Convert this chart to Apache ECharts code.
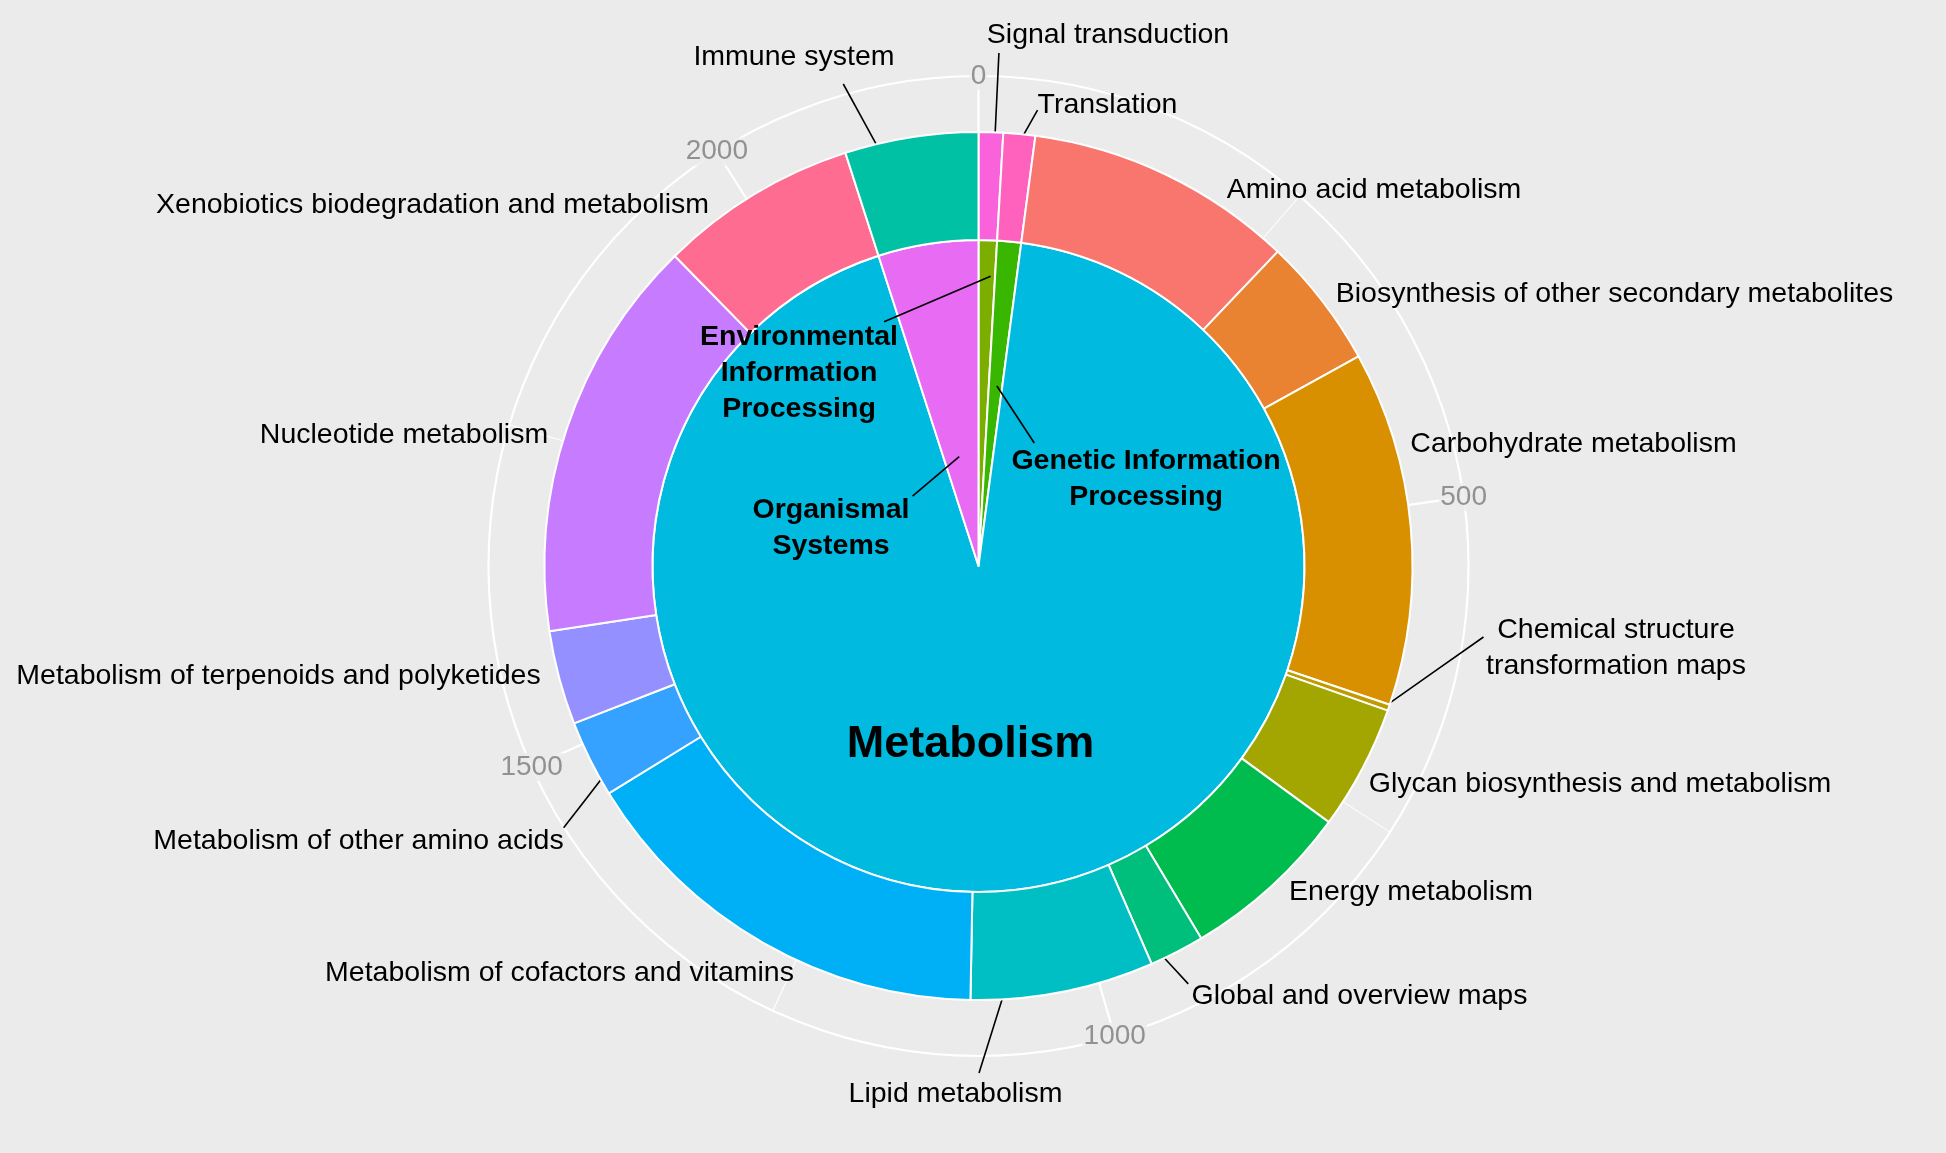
<!DOCTYPE html>
<html>
<head>
<meta charset="utf-8">
<script src="https://cdn.jsdelivr.net/npm/echarts@6/dist/echarts.min.js"></script>
<style>
html,body{margin:0;padding:0;background:#EBEBEB;}
#chart{width:1946px;height:1153px;}
</style>
</head>
<body>
<div id="chart"></div>
<script>
// ---------------- data ----------------
const outerNames = [
  'Signal transduction',
  'Translation',
  'Amino acid metabolism',
  'Biosynthesis of other secondary metabolites',
  'Carbohydrate metabolism',
  'Chemical structure\ntransformation maps',
  'Glycan biosynthesis and metabolism',
  'Energy metabolism',
  'Global and overview maps',
  'Lipid metabolism',
  'Metabolism of cofactors and vitamins',
  'Metabolism of other amino acids',
  'Metabolism of terpenoids and polyketides',
  'Nucleotide metabolism',
  'Xenobiotics biodegradation and metabolism',
  'Immune system'
];
const outerValues = [20, 26, 220, 107, 290, 5, 102, 140, 45, 150, 350, 63, 77, 331, 162, 109];

const innerNames = [
  'Environmental\nInformation\nProcessing',
  'Genetic Information\nProcessing',
  'Metabolism',
  'Organismal\nSystems'
];
const innerValues = [20, 26, 2042, 109];

const tickValues = [0, 500, 1000, 1500, 2000];

// ---------------- styles ----------------
const outerColors = ['#FA62DB','#FF62BC','#F8766D','#EA8331','#D89000','#C09B00','#A3A500','#00BB4E',
                     '#00BF7D','#00BFC4','#00B0F6','#35A2FF','#9590FF','#C77CFF','#FF6C91','#00C1A3'];
const innerColors = ['#7CAE00','#39B600','#00BAE0','#E76BF3'];

const FONT = 'Liberation Sans, Arial, Helvetica, sans-serif';
const CX = 978.5, CY = 566;
const R_IN = 326, R_OUT = 434, R_GRID = 490;

// label placement (layout only)
const outerLabelLayout = [
  {x:1108,   y:35,    line:{at:0.67, r:426, fx:0.05, fy:1.0}},
  {x:1107.5, y:105.5, line:{at:0.57, r:429, fx:0.0,  fy:0.63}},
  {x:1374,   y:190},
  {x:1614.5, y:294},
  {x:1573.5, y:444},
  {x:1616,   y:648.5, line:{at:0.5,  r:430, fx:-0.01, fy:0.34}},
  {x:1600,   y:784},
  {x:1411,   y:892},
  {x:1359.5, y:996.5, line:{at:0.8,  r:425, fx:-0.01, fy:0.15}},
  {x:955.5,  y:1094.5,line:{at:0.79, r:415, fx:0.61, fy:-0.1}},
  {x:559.5,  y:973},
  {x:358.5,  y:841.5, line:{at:0.25, r:425, fx:1.0,  fy:0.12}},
  {x:278.5,  y:676.5},
  {x:404,    y:435.5},
  {x:432.5,  y:205},
  {x:794,    y:57,    line:{at:0.27, r:418, fx:0.745, fy:1.25}}
];
const innerLabelLayout = [
  {x:799,   y:373.5, line:{at:0.73, r:290, fx:0.93, fy:0.02}},
  {x:1146,  y:479,   line:{at:0.6,  r:181, fx:0.085, fy:0}},
  {x:970.5, y:744.5},
  {x:831,   y:528.5, line:{at:0.44, r:111, fx:1.02, fy:0.05}}
];

const sum = a => a.reduce((s, v) => s + v, 0);
const TOTAL = sum(outerValues);

function makeLayout(values, layouts) {
  const total = sum(values);
  return function (params) {
    const i = params.dataIndex;
    const cfg = layouts[i];
    const out = {x: cfg.x, y: cfg.y, align: 'center', verticalAlign: 'middle'};
    if (cfg.line) {
      let start = 0;
      for (let k = 0; k < i; k++) start += values[k];
      const val = start + cfg.line.at * values[i];
      const th = val / total * Math.PI * 2;
      const ax = CX + cfg.line.r * Math.sin(th);
      const ay = CY - cfg.line.r * Math.cos(th);
      const w = params.labelRect.width, h = params.labelRect.height;
      const ex = cfg.x - w / 2 + cfg.line.fx * w;
      const ey = cfg.y - h / 2 + cfg.line.fy * h;
      out.labelLinePoints = [[ax, ay], [(ax + ex) / 2, (ay + ey) / 2], [ex, ey]];
    }
    return out;
  };
}

const outerData = outerNames.map((n, i) => ({
  name: n, value: outerValues[i],
  itemStyle: {color: outerColors[i]},
  labelLine: {show: !!outerLabelLayout[i].line}
}));
const innerData = innerNames.map((n, i) => ({
  name: n, value: innerValues[i],
  itemStyle: {color: innerColors[i]}
}));
// transparent copy of the inner pie that only carries labels + leader lines (drawn above all sectors)
const innerLabelData = innerNames.map((n, i) => {
  const d = {
    name: n, value: innerValues[i],
    labelLine: {show: !!innerLabelLayout[i].line}
  };
  if (n === 'Metabolism') d.label = {fontSize: 45};
  return d;
});

const labelLineStyle = {color: '#000000', width: 1.6};

const chart = echarts.init(document.getElementById('chart'), null, {renderer: 'canvas'});
chart.setOption({
  animation: false,
  backgroundColor: '#EBEBEB',
  polar: [
    {center: [CX, CY], radius: [0, R_GRID]},
    {center: [CX, CY], radius: [0, R_GRID]}
  ],
  angleAxis: [
    {polarIndex: 0, type: 'value', min: 0, max: TOTAL, interval: 500, startAngle: 90, clockwise: true, z: 1,
     axisLine: {show: true, lineStyle: {color: '#FFFFFF', width: 2.2}},
     axisTick: {show: false}, axisLabel: {show: false},
     splitLine: {show: true, lineStyle: {color: '#FFFFFF', width: 2.2}}},
    {polarIndex: 1, type: 'value', min: 0, max: TOTAL, interval: 250, startAngle: 90, clockwise: true, z: 0,
     axisLine: {show: false}, axisTick: {show: false}, axisLabel: {show: false},
     splitLine: {show: true, lineStyle: {color: '#FFFFFF', width: 1.1}}}
  ],
  radiusAxis: [
    {polarIndex: 0, type: 'value', min: 0, max: 1, show: false, splitLine: {show: false}},
    {polarIndex: 1, type: 'value', min: 0, max: 1, show: false, splitLine: {show: false}}
  ],
  series: [
    {
      type: 'scatter', coordinateSystem: 'polar', polarIndex: 0, clip: false, silent: true, z: 5,
      symbol: 'circle', symbolSize: 1, itemStyle: {color: 'rgba(0,0,0,0)'},
      data: tickValues.map(v => [1, v]),
      label: {show: true, position: 'inside', formatter: p => String(p.value[1]),
              color: '#7A7A7A', fontSize: 28, fontFamily: FONT,
              backgroundColor: '#EBEBEB', padding: [0, 1]}
    },
    {
      type: 'pie', name: 'inner', center: [CX, CY], radius: [0, R_IN],
      startAngle: 90, clockwise: true, avoidLabelOverlap: false, silent: true, z: 2,
      itemStyle: {borderColor: '#FFFFFF', borderWidth: 2},
      label: {show: false}, labelLine: {show: false},
      emphasis: {disabled: true},
      data: innerData
    },
    {
      type: 'pie', name: 'outer', center: [CX, CY], radius: [R_IN, R_OUT],
      startAngle: 90, clockwise: true, avoidLabelOverlap: false, silent: true, z: 2,
      itemStyle: {borderColor: '#FFFFFF', borderWidth: 2},
      label: {show: true, position: 'outside', formatter: '{b}', color: '#000000',
              fontSize: 28.5, fontFamily: FONT, lineHeight: 36, align: 'center'},
      labelLine: {show: true, length: 10, length2: 10, smooth: false, lineStyle: labelLineStyle},
      labelLayout: makeLayout(outerValues, outerLabelLayout),
      emphasis: {disabled: true},
      data: outerData
    },
    {
      type: 'pie', name: 'innerLabels', center: [CX, CY], radius: [0, R_IN],
      startAngle: 90, clockwise: true, avoidLabelOverlap: false, silent: true, z: 4,
      itemStyle: {color: 'rgba(0,0,0,0)', borderWidth: 0},
      label: {show: true, position: 'outside', formatter: '{b}', color: '#000000',
              fontSize: 28.5, fontWeight: 'bold', fontFamily: FONT, lineHeight: 36, align: 'center'},
      labelLine: {show: true, length: 10, length2: 10, smooth: false, lineStyle: labelLineStyle},
      labelLayout: makeLayout(innerValues, innerLabelLayout),
      emphasis: {disabled: true},
      data: innerLabelData
    }
  ]
});
</script>
</body>
</html>
